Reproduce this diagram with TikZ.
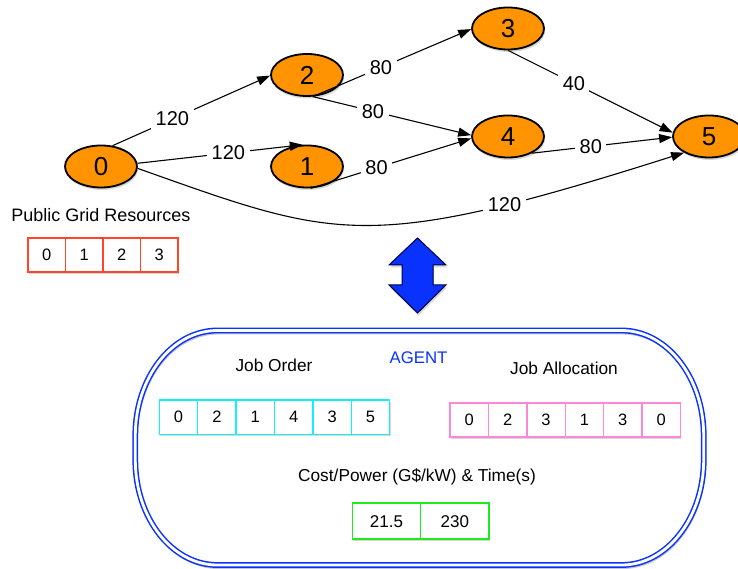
\documentclass[tikz,border=0pt]{standalone}
\usepackage{fontspec}
\setmainfont{Liberation Sans}
\usetikzlibrary{arrows.meta,shapes.geometric,shadows}

\definecolor{nodeorange}{RGB}{255,147,0}
\definecolor{gridred}{RGB}{255,70,40}
\definecolor{ordercyan}{RGB}{20,240,250}
\definecolor{allocpink}{RGB}{255,135,215}
\definecolor{costgreen}{RGB}{30,235,30}
\definecolor{agentblue}{RGB}{10,50,255}

% outline of the agent container (stadium with elliptic ends)
\newcommand{\agentloop}[1]{%
  \draw[#1] (217.3,238.5) -- (621.7,238.5)
    arc[start angle=90,end angle=0,x radius=82pt,y radius=105pt] -- (703.7,109)
    arc[start angle=0,end angle=-90,x radius=82pt,y radius=105pt] -- (217.3,4)
    arc[start angle=-90,end angle=-180,x radius=82pt,y radius=105pt] -- (135.3,133.5)
    arc[start angle=180,end angle=90,x radius=82pt,y radius=105pt] -- cycle;}

\begin{document}
\begin{tikzpicture}[x=1pt,y=1pt,
  task/.style={ellipse, draw=black, line width=1.8pt, fill=nodeorange,
    minimum width=72pt, minimum height=42pt, inner sep=0pt,
    font=\fontsize{26}{30}\selectfont,
    drop shadow={opacity=.3, shadow xshift=1pt, shadow yshift=-2.5pt}},
  link/.style={line width=1.1pt, -{Triangle[length=13pt,width=9pt]}},
  weight/.style={fill=white, inner sep=4.5pt, font=\fontsize{20}{24}\selectfont},
  cell/.style={draw=#1, line width=1.4pt, fill=white, inner sep=0pt,
    font=\fontsize{16.5}{19}\selectfont,
    drop shadow={opacity=.3, shadow xshift=1pt, shadow yshift=-2pt}},
  caption/.style={font=\fontsize{17.3}{20}\selectfont, inner sep=0pt},
]
\fill[white] (0,0) rectangle (738,569);
\useasboundingbox (0,0) rectangle (738,569);
\clip (0,0) rectangle (738,569);

% task graph
\node[task] (n0) at (101,402.5) {0};
\node[task] (n1) at (307,402.5) {1};
\node[task] (n2) at (307,494) {2};
\node[task] (n3) at (508,540.5) {3};
\node[task] (n4) at (508,432.5) {4};
\node[task] (n5) at (709,432.5) {5};

\draw[link] (n0.61) -- node[weight,pos=.38]{120} (n2.181);
\draw[link] (n0.5) -- node[weight,pos=.55]{120} (n1.101);
\draw[link] (n0.-3) .. controls (337,330) and (365,315) .. node[weight,pos=.77]{120} (n5.213);
\draw[link] (n2.-75) -- node[weight,pos=.43]{80} (n3.181);
\draw[link] (n2.-75) -- node[weight,pos=.38]{80} (n4.178);
\draw[link] (n1.-80) -- node[weight,pos=.41]{80} (n4.183);
\draw[link] (n3.-90) -- node[weight,pos=.40]{40} (n5.174);
\draw[link] (n4.-35) -- node[weight,pos=.42]{80} (n5.181);

% public grid resources
\node[caption, font=\fontsize{18}{21}\selectfont] (grid) at (101,354) {Public Grid Resources};
\foreach \v [count=\i from 0] in {0,1,2,3}
  \node[cell=gridred, minimum width=37.5pt, minimum height=34pt] (rg\i) at (46.75+37.5*\i,314) {\v};

% two-way exchange arrow
\draw[fill=agentblue, draw=black!75!blue, line width=1pt,
      drop shadow={opacity=.3, shadow xshift=1pt, shadow yshift=-2.5pt}]
  (417.5,331) -- (446,304) -- (433,304) -- (433,284) -- (446,284) -- (417.5,256)
  -- (389,284) -- (402,284) -- (402,304) -- (389,304) -- cycle;

% agent container
\agentloop{black, opacity=.22, line width=3pt, shift={(1pt,-2.5pt)}}
\agentloop{draw=agentblue, line width=1.5pt, double=white, double distance=2.8pt}

\node[caption] (order) at (274,204) {Job Order};
\node[caption, text=agentblue, font=\fontsize{16.8}{20}\selectfont] (agent) at (418.5,211) {AGENT};
\node[caption] (alloc) at (564,201) {Job Allocation};
\node[caption] (cost) at (417,92) {Cost/Power (G\$/kW) \& Time(s)};

\foreach \v [count=\i from 0] in {0,2,1,4,3,5}
  \node[cell=ordercyan, minimum width=38.4pt, minimum height=34.5pt] (jo\i) at (178.5+38.4*\i,151.8) {\v};
\foreach \v [count=\i from 0] in {0,2,3,1,3,0}
  \node[cell=allocpink, minimum width=38.4pt, minimum height=34pt] (ja\i) at (469.2+38.4*\i,149) {\v};
\node[cell=costgreen, minimum width=68.3pt, minimum height=36pt, font=\fontsize{17}{20}\selectfont] (cp0) at (386.5,47.8) {21.5};
\node[cell=costgreen, minimum width=68.3pt, minimum height=36pt, font=\fontsize{17}{20}\selectfont] (cp1) at (454.8,47.8) {230};
\end{tikzpicture}
\end{document}
